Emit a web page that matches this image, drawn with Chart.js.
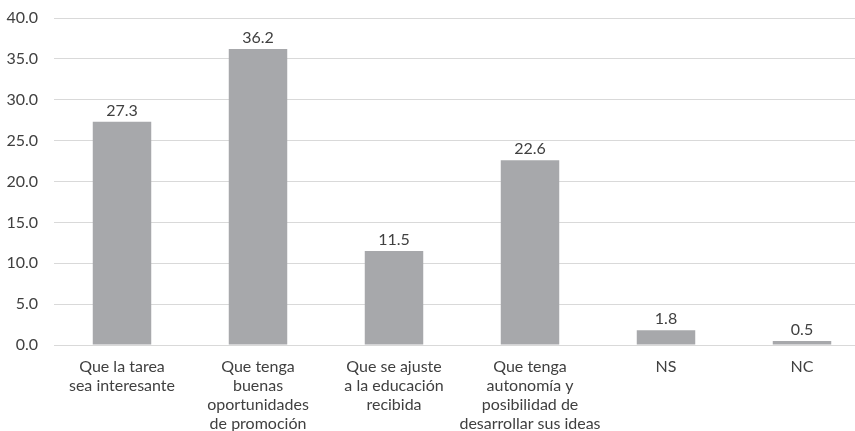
<!DOCTYPE html>
<html>
<head>
<meta charset="utf-8">
<script src="https://cdn.jsdelivr.net/npm/chart.js@4"></script>
<style>
  html, body { margin: 0; padding: 0; background: #fff; overflow: hidden; }
  #wrap { width: 855px; height: 431px; overflow: hidden; }
</style>
</head>
<body>
<div id="wrap"><canvas id="bar-chart" width="870" height="431"></canvas></div>
<script>
var categorias = [
    ['Que la tarea', 'sea interesante'],
    ['Que tenga', 'buenas', 'oportunidades', 'de promoción'],
    ['Que se ajuste', 'a la educación', 'recibida'],
    ['Que tenga', 'autonomía y', 'posibilidad de', 'desarrollar sus ideas'],
    'NS',
    'NC'
];
var porcentajes = [27.3, 36.2, 11.5, 22.6, 1.8, 0.5];
var ticksY = [0, 5, 10, 15, 20, 25, 30, 35, 40];

var fontName = 'Lato, "Open Sans", sans-serif';
var textColor = '#404040';

// etichette sopra le barre
var valueLabels = {
    id: 'valueLabels',
    afterDatasetsDraw: function(chart) {
        var ctx = chart.ctx;
        var meta = chart.getDatasetMeta(0);
        ctx.save();
        ctx.font = '16px ' + fontName;
        ctx.fillStyle = textColor;
        ctx.textAlign = 'center';
        ctx.textBaseline = 'bottom';
        meta.data.forEach(function(bar, i) {
            ctx.fillText(porcentajes[i].toFixed(1), bar.x, bar.y - 3);
        });
        ctx.restore();
    }
};

var ctx = document.getElementById('bar-chart');
var barChart = new Chart(ctx, {
    type: 'bar',
    data: {
        labels: categorias,
        datasets: [{
            data: porcentajes,
            backgroundColor: '#a7a8ab',
            categoryPercentage: 1,
            barPercentage: 0.43
        }]
    },
    options: {
        responsive: false,
        animation: false,
        layout: { padding: { top: 18, left: 0, right: 0, bottom: 0 } },
        plugins: {
            legend: { display: false },
            tooltip: { enabled: false }
        },
        scales: {
            x: {
                grid: { display: false, drawTicks: false },
                border: { display: false },
                ticks: {
                    color: textColor,
                    font: { family: fontName, size: 16, lineHeight: 1.19 },
                    maxRotation: 0,
                    autoSkip: false,
                    padding: 12
                },
                afterFit: function(scale) { scale.height = 86; }
            },
            y: {
                min: 0,
                max: 40,
                afterBuildTicks: function(scale) {
                    scale.ticks = ticksY.map(function(v) { return { value: v }; });
                },
                grid: { color: '#d9d9d9', lineWidth: 1, drawTicks: false },
                border: { display: false },
                ticks: {
                    color: textColor,
                    font: { family: fontName, size: 16 },
                    padding: 16,
                    callback: function(v) { return v.toFixed(1); }
                },
                afterFit: function(scale) {
                    scale.width = 54;
                    scale.paddingTop = 0;
                    scale.paddingBottom = 0;
                }
            }
        }
    },
    plugins: [valueLabels]
});
</script>
</body>
</html>
